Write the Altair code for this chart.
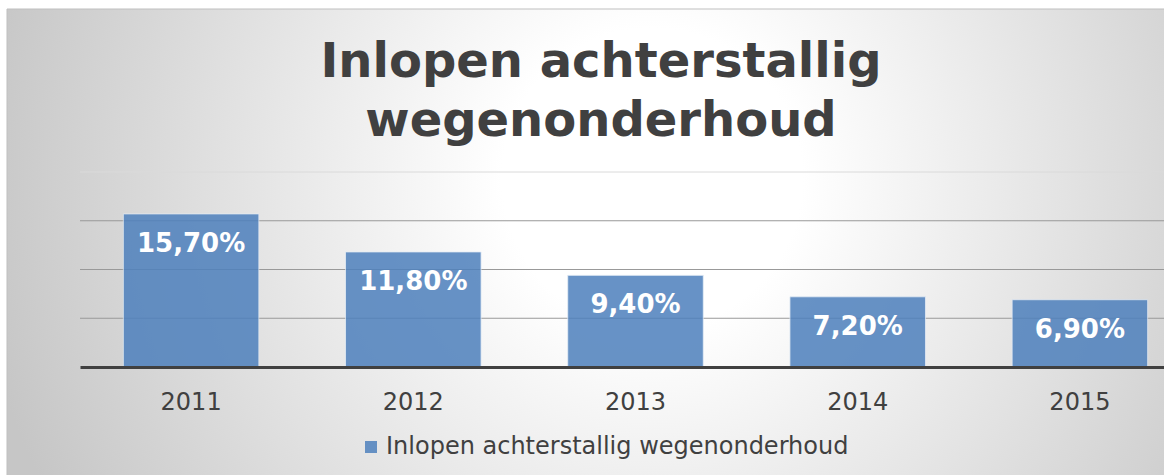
import altair as alt
import pandas as pd

years = ["2011", "2012", "2013", "2014", "2015"]
values = [15.7, 11.8, 9.4, 7.2, 6.9]
value_labels = ["15,70%", "11,80%", "9,40%", "7,20%", "6,90%"]
series_name = "Inlopen achterstallig wegenonderhoud"
title_lines = ["Inlopen achterstallig", "wegenonderhoud"]
grid_values = [5, 10, 15, 20]

df = pd.DataFrame({
    "jaar": years,
    "waarde": values,
    "label": value_labels,
    "reeks": [series_name] * len(years),
})
grid_df = pd.DataFrame({"waarde": grid_values})

W = 1084
H = 195
FONT = "DejaVu Sans"
TEXT = "#404040"

bg_grad = alt.RadialGradient(
    gradient="radial",
    stops=[
        alt.GradientStop(color="#ffffff", offset=0),
        alt.GradientStop(color="#ffffff", offset=0.22),
        alt.GradientStop(color="#c6c6c6", offset=1),
    ],
    x1=0.553, y1=0.147, r1=0,
    x2=0.553, y2=0.147, r2=0.585,
)

bg = alt.Chart(pd.DataFrame({"a": [0]})).mark_rect(
    fill=bg_grad, stroke="#bfbfbf", strokeWidth=1
).encode(
    x=alt.value(-73), x2=alt.value(W + 10),
    y=alt.value(-163), y2=alt.value(1000),
)

yscale = alt.Scale(domain=[0, 20], nice=False)

grid = alt.Chart(grid_df).mark_rule(strokeWidth=1).encode(
    y=alt.Y("waarde:Q", scale=yscale, axis=None),
    x=alt.value(0), x2=alt.value(W),
    color=alt.condition(alt.datum.waarde >= 20, alt.value("#dadada"), alt.value("#999999")),
)

xenc = alt.X(
    "jaar:N",
    sort=years,
    scale=alt.Scale(range=[0, 1111], paddingInner=0.39, paddingOuter=0.195),
    axis=alt.Axis(
        title=None, labelAngle=0, labelFontSize=24, labelColor=TEXT, labelFont=FONT,
        ticks=False, tickSize=0, labelPadding=23, domainColor=TEXT, domainWidth=3,
        grid=False, zindex=1,
    ),
)

bars = alt.Chart(df).mark_bar(
    opacity=0.86, stroke="#e4ecf6", strokeWidth=1, strokeOpacity=0.8
).encode(
    x=xenc,
    y=alt.Y("waarde:Q", scale=yscale, axis=None),
    color=alt.Color(
        "reeks:N",
        scale=alt.Scale(range=["#4f81bd"]),
        legend=alt.Legend(
            title=None, orient="none", legendX=279, legendY=263,
            symbolType="square", symbolSize=144, symbolOpacity=0.86,
            symbolStrokeWidth=0, labelLimit=800,
            labelFontSize=24, labelColor=TEXT, labelFont=FONT, labelOffset=3,
            padding=0,
        ),
    ),
)

texts = alt.Chart(df).mark_text(
    dy=30, color="white", fontWeight="bold", fontSize=26, font=FONT, baseline="middle"
).encode(
    x=alt.X("jaar:N", sort=years),
    y=alt.Y("waarde:Q", scale=yscale, axis=None),
    text="label:N",
)

chart = alt.layer(bg, grid, bars, texts).properties(
    width=W,
    height=H,
    autosize=alt.AutoSizeParams(type="none"),
    padding={"left": 80, "top": 172, "right": 0, "bottom": 108},
    title=alt.TitleParams(
        text=title_lines, fontSize=48, font=FONT, fontWeight="bold", color=TEXT,
        lineHeight=59, anchor="middle", dx=-21, offset=0, dy=137,
    ),
).configure_view(stroke=None).configure(background="white")

chart.save("out.html", embed_options={"renderer": "svg", "actions": False})
